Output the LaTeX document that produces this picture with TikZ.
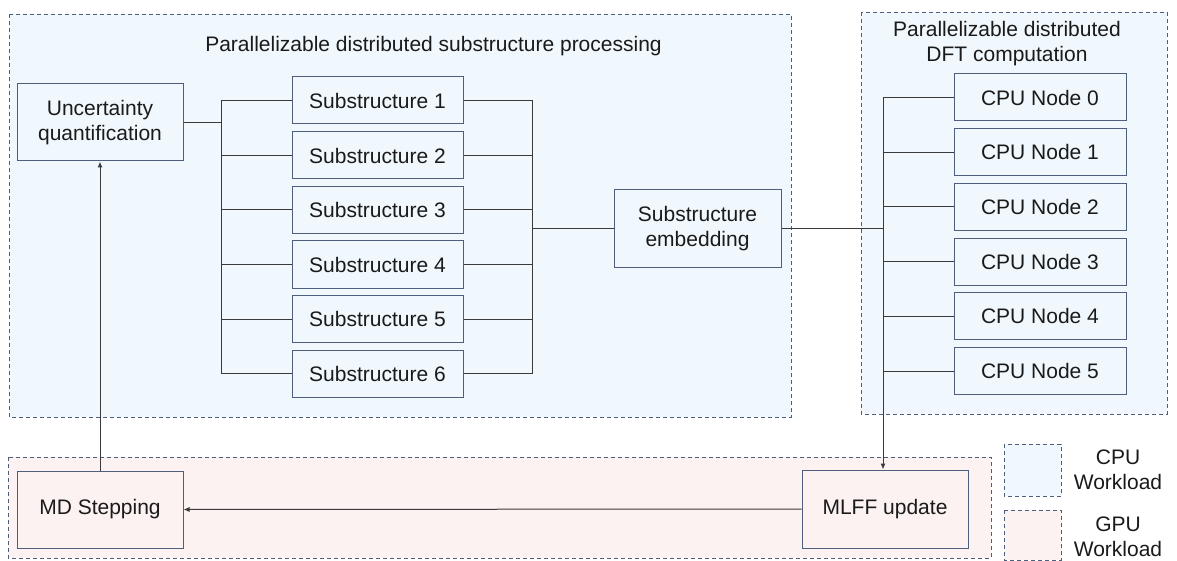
\documentclass[tikz,border=0pt]{standalone}
\usepackage{fontspec}
\setmainfont{Liberation Sans}
\usetikzlibrary{arrows.meta}
\definecolor{cpufill}{HTML}{F1F8FD}
\definecolor{gpufill}{HTML}{FBF2F1}
\definecolor{edgec}{HTML}{4E5F7D}
\definecolor{linec}{HTML}{3A3A3A}
\definecolor{txtc}{HTML}{1A1A1A}
\tikzset{
  region/.style={draw=edgec, line width=0.9pt, dash pattern=on 4pt off 3pt},
  box/.style={draw=edgec, line width=1pt, rectangle, align=center, text=txtc, font=\fontsize{21}{25}\selectfont, inner sep=0pt},
  conn/.style={draw=linec, line width=1pt},
  arr/.style={conn, -{Latex[length=6pt,width=5pt]}},
  lbl/.style={align=center, text=txtc, font=\fontsize{21}{25}\selectfont, inner sep=0pt}
}
\begin{document}
\begin{tikzpicture}[x=1pt,y=-1pt]
\useasboundingbox (0,0) rectangle (1177,561);
% regions
\path[region, fill=cpufill] (9,14) rectangle (791,417);
\path[region, fill=cpufill] (861,12) rectangle (1167,414);
\path[region, fill=gpufill] (8,457) rectangle (991,558);
% legend
\path[region, fill=cpufill] (1004,444) rectangle (1061,496);
\path[region, fill=gpufill] (1004,510) rectangle (1061,560);
\node[lbl] (lcpu) at (1118,470) {CPU\\Workload};
\node[lbl] (lgpu) at (1118,537) {GPU\\Workload};
% titles
\node[lbl] (t1) at (433.5,46) {Parallelizable distributed substructure processing};
\node[lbl] (t2) at (1007,44) {Parallelizable distributed\\DFT computation};
% boxes
\node[box, fill=cpufill, minimum width=166pt, minimum height=77pt] (uq) at (100,122.5) {Uncertainty\\quantification};
\foreach \i/\y in {1/100.5,2/155.5,3/210,4/264.5,5/319,6/373.5}{
  \node[box, fill=cpufill, minimum width=171pt, minimum height=47pt] (s\i) at (377.5,\y) {Substructure \i};
}
\node[box, fill=cpufill, minimum width=167pt, minimum height=77pt] (emb) at (697.5,228.5) {Substructure\\embedding};
\foreach \i/\y in {0/97.5,1/152.2,2/206.9,3/261.6,4/316.3,5/371}{
  \node[box, fill=cpufill, minimum width=172pt, minimum height=47pt] (c\i) at (1040,\y) {CPU Node \i};
}
\node[box, fill=gpufill, minimum width=166pt, minimum height=77pt] (md) at (100,509.5) {MD Stepping};
\node[box, fill=gpufill, minimum width=166pt, minimum height=78pt] (ml) at (885,509) {MLFF update};
% connectors
\coordinate (bl) at (221,0);
\coordinate (br) at (532,0);
\coordinate (bd) at (883,0);
\draw[conn] (uq.east) -- (uq.east -| bl);
\draw[conn] (s1.west -| bl) -- (s6.west -| bl);
\draw[conn] (s1.east -| br) -- (s6.east -| br);
\foreach \i in {1,...,6}{
  \draw[conn] (s\i.west -| bl) -- (s\i.west);
  \draw[conn] (s\i.east) -- (s\i.east -| br);
}
\draw[conn] (emb.west -| br) -- (emb.west);
\draw[conn] (emb.east) -- (emb.east -| bd);
\foreach \i in {0,...,5}{
  \draw[conn] (c\i.west -| bd) -- (c\i.west);
}
\draw[arr] (c0.west -| bd) -- (ml.north -| bd);
\draw[arr] (ml.west) -- (md.east);
\draw[arr] (md.north) -- (uq.south);
\end{tikzpicture}
\end{document}
